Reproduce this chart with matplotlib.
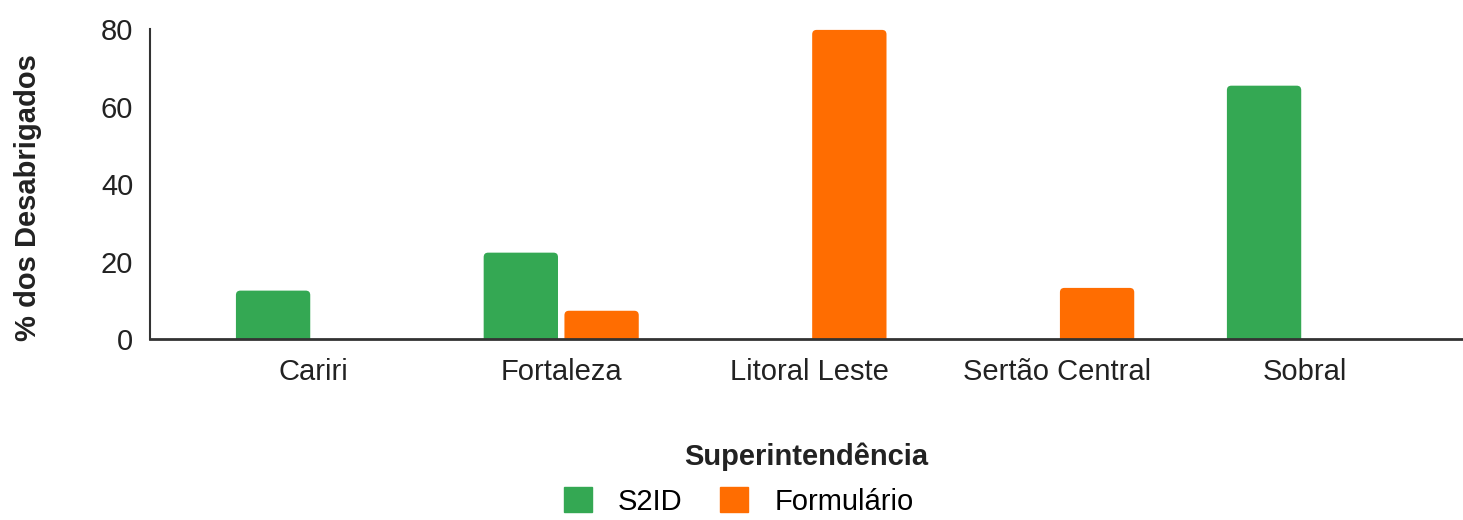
import numpy as np
import matplotlib
matplotlib.use("Agg")
import matplotlib.pyplot as plt
from matplotlib.patches import Patch, FancyBboxPatch

plt.rcParams['font.family'] = ['Liberation Sans', 'DejaVu Sans']

categories = ["Cariri", "Fortaleza", "Litoral Leste", "Sertão Central", "Sobral"]
s2id = [12.5, 22.3, 0, 0, 65.4]
formulario = [0, 7.3, 79.8, 13.2, 0]
green = "#34A853"
orange = "#FF6D01"

fig = plt.figure(figsize=(14.63, 5.2), dpi=100)
ax = fig.add_axes([0.1025, 0.348, 0.8975, 0.596])

x = np.arange(len(categories))
w = 0.30
off = 0.163
b1 = ax.bar(x - off, s2id, w, color=green, zorder=2)
b2 = ax.bar(x + off, formulario, w, color=orange, zorder=2)

ax.set_xlim(-0.66, 4.64)
ax.set_ylim(0, 80)

# round the top corners (bottom ones hidden below the axis)
xr = ax.get_xlim()[1] - ax.get_xlim()[0]
aspect = (80 / (0.596 * 520)) / (xr / (0.8975 * 1463))
for bars in (b1, b2):
    for r in bars:
        h = r.get_height()
        if h <= 0:
            r.set_visible(False)
            continue
        fb = FancyBboxPatch((r.get_x(), -2), r.get_width(), h + 2,
                            boxstyle="round,pad=0,rounding_size=0.018",
                            mutation_aspect=aspect, fc=r.get_facecolor(),
                            ec="none", zorder=2)
        r.set_visible(False)
        ax.add_patch(fb)

ax.set_yticks([0, 20, 40, 60, 80])
ax.set_xticks(x)
ax.set_xticklabels(categories)
ax.tick_params(axis='both', length=0, labelsize=21, colors="#222222")
ax.tick_params(axis='x', pad=14)
ax.tick_params(axis='y', pad=12)

for s in ["top", "right"]:
    ax.spines[s].set_visible(False)
ax.spines["left"].set_color("#333333")
ax.spines["left"].set_linewidth(1.5)
ax.spines["bottom"].set_color("#333333")
ax.spines["bottom"].set_linewidth(2)
ax.spines["bottom"].set_zorder(3)

ax.set_ylabel("% dos Desabrigados", fontsize=21, fontweight="bold", color="#222222")
ax.yaxis.set_label_coords(-0.082, 0.458)
ax.set_xlabel("Superintendência", fontsize=21, fontweight="bold", labelpad=40, color="#222222")

handles = [Patch(color=green, label="S2ID"), Patch(color=orange, label="Formulário")]
fig.legend(handles=handles, loc="lower center", bbox_to_anchor=(0.505, -0.042), ncol=2,
           frameon=False, fontsize=21, handlelength=0.95, handleheight=0.95,
           columnspacing=1.3, handletextpad=0.9)

fig.savefig("out.png", dpi=100)
